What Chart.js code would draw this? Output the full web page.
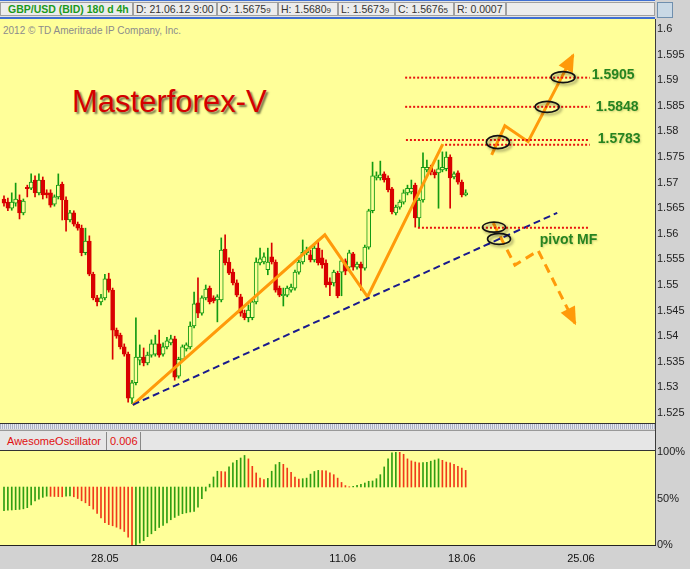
<!DOCTYPE html>
<html>
<head>
<meta charset="utf-8">
<script src="https://cdn.jsdelivr.net/npm/chart.js@4.4.1/dist/chart.umd.min.js"></script>
<style>
body { margin:0; background:#d4d4d4; }
#wrap { position:relative; width:690px; height:569px; overflow:hidden; background:#d2d2d2; font-family: Arial, 'Liberation Sans', sans-serif; }
.abs { position:absolute; }
#hdr { left:0; top:0; width:655px; height:16px; background:#e4e4e4; border-top:1px solid #3f6fd2; border-bottom:2px solid #3f6fd2; }
.cell { position:absolute; top:1px; height:14px; line-height:13px; font-size:10.5px; color:#333; background:#ececec; border:1px solid #a0a0a0; padding-left:2px; box-sizing:border-box; white-space:nowrap; overflow:hidden; }
.cell small { font-size:8px; }
#plot { left:0; top:19px; width:655px; height:404px; background:#ffff99; }
#vline { left:655px; top:19px; width:1px; height:527px; background:#3a3a3a; }
#sep1 { left:0; top:423px; width:655px; height:1px; background:#333; }
#sep2 { left:0; top:424px; width:655px; height:5px; background: repeating-linear-gradient(90deg, #aeb4c4 0 1px, #e6e8ee 1px 2px); }
#aohdr { left:0; top:430px; width:655px; height:20px; background:#e6e6e6; border-top:1px solid #999; box-sizing:border-box; }
.aocell { position:absolute; top:1px; height:18px; line-height:18px; font-size:11px; color:#e01010; border-right:1px solid #888; box-sizing:border-box; padding-left:7px; }
#aoplot { left:0; top:450px; width:655px; height:95px; background:#ffff99; border-top:1px solid #333; box-sizing:border-box; }
#aobot { left:0; top:545px; width:656px; height:1px; background:#222; }
#copy { left:3px; top:25px; font-size:10px; color:#8c8c8c; white-space:nowrap; }
#title { left:72px; top:86px; font-size:31px; line-height:31px; color:#d40000; white-space:nowrap; text-shadow: 2px 2px 2px rgba(0,0,0,0.55); }
#hand { left:657px; top:2px; width:14px; height:14px; border:1px solid #6f8fae; background:#c9d9e6; }
canvas { position:absolute; left:0; }
</style>
</head>
<body>
<div id="wrap">
  <div id="hdr" class="abs">
    <div class="cell" style="left:0;width:133px;color:#1c9a1c;font-weight:bold;padding-left:7px;">GBP/USD (BID) 180 d 4h</div>
    <div class="cell" style="left:133px;width:84px;">D: 21.06.12 9:00</div>
    <div class="cell" style="left:217px;width:61px;">O: 1.5675<small>9</small></div>
    <div class="cell" style="left:278px;width:60px;">H: 1.5680<small>9</small></div>
    <div class="cell" style="left:338px;width:57px;">L: 1.5673<small>9</small></div>
    <div class="cell" style="left:395px;width:59px;">C: 1.5676<small>5</small></div>
    <div class="cell" style="left:454px;width:52px;">R: 0.0007</div>
    <div class="cell" style="left:506px;width:149px;"></div>
  </div>
  <div id="hand" class="abs"></div>
  <div id="plot" class="abs"></div>
  <div id="sep1" class="abs"></div>
  <div id="sep2" class="abs"></div>
  <div id="aohdr" class="abs">
    <div class="aocell" style="left:0;width:107px;">AwesomeOscillator</div>
    <div class="aocell" style="left:107px;width:34px;padding-left:3px;" id="aoval"></div>
  </div>
  <div id="aoplot" class="abs"></div>
  <div id="vline" class="abs"></div>
  <div id="aobot" class="abs"></div>
  <div id="copy" class="abs">2012 © TD Ameritrade IP Company, Inc.</div>
  <div id="title" class="abs">Masterforex-V</div>
  <canvas id="mainChart" width="690" height="401" style="top:20px"></canvas>
  <canvas id="aoChart" width="690" height="129" style="top:440px"></canvas>
</div>
<script>
// GBP/USD 4h candles, one per bar index
const opens = [
  1.5668,1.5662,1.5650,1.5660,1.5666,1.5641,1.5691,1.5689,1.5705,1.5680,
  1.5705,1.5680,1.5680,1.5658,1.5672,1.5697,1.5666,1.5627,1.5641,1.5619,
  1.5611,1.5563,1.5586,1.5521,1.5475,1.5467,1.5475,1.5512,1.5490,1.5412,
  1.5402,1.5379,1.5365,1.5279,1.5309,1.5353,1.5359,1.5348,1.5363,1.5365,
  1.5385,1.5365,1.5379,1.5387,1.5395,1.5322,1.5355,1.5375,1.5379,1.5420,
  1.5465,1.5445,1.5475,1.5494,1.5475,1.5471,1.5471,1.5570,1.5545,1.5525,
  1.5504,1.5477,1.5445,1.5436,1.5436,1.5467,1.5543,1.5545,1.5530,1.5555,
  1.5545,1.5494,1.5479,1.5480,1.5490,1.5494,1.5525,1.5545,1.5563,1.5559,
  1.5549,1.5572,1.5553,1.5543,1.5506,1.5504,1.5523,1.5525,1.5547,1.5535,
  1.5561,1.5535,1.5541,1.5533,1.5574,1.5645,1.5709,1.5709,1.5717,1.5709,
  1.5688,1.5641,1.5652,1.5662,1.5680,1.5682,1.5695,1.5631,1.5666,1.5725,
  1.5730,1.5721,1.5719,1.5725,1.5727,1.5750,1.5711,1.5719,1.5701,1.5676
];
const highs = [
  1.5674,1.5670,1.5680,1.5699,1.5676,1.5668,1.5695,1.5717,1.5713,1.5717,
  1.5711,1.5686,1.5686,1.5676,1.5717,1.5701,1.5672,1.5646,1.5645,1.5623,
  1.5617,1.5611,1.5596,1.5525,1.5480,1.5482,1.5521,1.5523,1.5494,1.5416,
  1.5406,1.5385,1.5369,1.5314,1.5436,1.5383,1.5377,1.5369,1.5393,1.5402,
  1.5412,1.5387,1.5398,1.5402,1.5400,1.5359,1.5383,1.5387,1.5428,1.5486,
  1.5514,1.5479,1.5500,1.5498,1.5479,1.5481,1.5592,1.5598,1.5553,1.5531,
  1.5510,1.5482,1.5451,1.5461,1.5471,1.5553,1.5572,1.5563,1.5572,1.5582,
  1.5549,1.5498,1.5494,1.5498,1.5502,1.5529,1.5549,1.5588,1.5574,1.5568,
  1.5578,1.5588,1.5568,1.5549,1.5514,1.5529,1.5527,1.5549,1.5551,1.5568,
  1.5564,1.5545,1.5545,1.5578,1.5648,1.5740,1.5721,1.5742,1.5721,1.5713,
  1.5691,1.5656,1.5666,1.5686,1.5695,1.5705,1.5699,1.5670,1.5758,1.5744,
  1.5734,1.5725,1.5744,1.5760,1.5760,1.5754,1.5721,1.5723,1.5705,1.5686
];
const lows = [
  1.5654,1.5645,1.5646,1.5654,1.5629,1.5637,1.5672,1.5686,1.5672,1.5676,
  1.5668,1.5670,1.5652,1.5654,1.5668,1.5627,1.5605,1.5623,1.5615,1.5607,
  1.5557,1.5559,1.5518,1.5471,1.5459,1.5461,1.5471,1.5486,1.5355,1.5396,
  1.5375,1.5361,1.5271,1.5268,1.5305,1.5344,1.5342,1.5344,1.5359,1.5361,
  1.5359,1.5361,1.5375,1.5383,1.5314,1.5318,1.5352,1.5371,1.5375,1.5416,
  1.5436,1.5441,1.5471,1.5463,1.5465,1.5428,1.5467,1.5539,1.5520,1.5500,
  1.5477,1.5439,1.5432,1.5428,1.5432,1.5463,1.5539,1.5541,1.5520,1.5541,
  1.5486,1.5477,1.5459,1.5477,1.5486,1.5490,1.5521,1.5541,1.5559,1.5545,
  1.5545,1.5539,1.5533,1.5496,1.5479,1.5498,1.5475,1.5479,1.5520,1.5529,
  1.5529,1.5531,1.5490,1.5529,1.5570,1.5641,1.5705,1.5705,1.5701,1.5682,
  1.5639,1.5637,1.5648,1.5658,1.5676,1.5678,1.5613,1.5613,1.5662,1.5721,
  1.5715,1.5709,1.5650,1.5721,1.5723,1.5650,1.5707,1.5697,1.5672,1.5674
];
const closes = [
  1.5660,1.5650,1.5662,1.5668,1.5641,1.5664,1.5688,1.5701,1.5680,1.5705,
  1.5676,1.5676,1.5656,1.5672,1.5695,1.5666,1.5627,1.5641,1.5619,1.5611,
  1.5563,1.5586,1.5521,1.5475,1.5467,1.5475,1.5512,1.5490,1.5412,1.5400,
  1.5379,1.5365,1.5279,1.5309,1.5359,1.5359,1.5348,1.5363,1.5385,1.5385,
  1.5363,1.5379,1.5391,1.5395,1.5320,1.5355,1.5379,1.5383,1.5420,1.5463,
  1.5445,1.5475,1.5492,1.5467,1.5469,1.5477,1.5568,1.5543,1.5523,1.5504,
  1.5480,1.5445,1.5436,1.5451,1.5467,1.5545,1.5551,1.5555,1.5545,1.5545,
  1.5490,1.5480,1.5482,1.5494,1.5496,1.5525,1.5545,1.5564,1.5568,1.5549,
  1.5572,1.5543,1.5539,1.5500,1.5500,1.5525,1.5479,1.5547,1.5527,1.5563,
  1.5535,1.5541,1.5533,1.5574,1.5645,1.5713,1.5713,1.5715,1.5705,1.5686,
  1.5643,1.5652,1.5662,1.5680,1.5689,1.5689,1.5631,1.5666,1.5730,1.5730,
  1.5721,1.5715,1.5727,1.5730,1.5750,1.5709,1.5717,1.5701,1.5676,1.5680
];

// Awesome Oscillator, same bars
const aoValues = [
  -0.0082,-0.0081,-0.0080,-0.0079,-0.0078,-0.0076,-0.0072,-0.0062,-0.0048,-0.0042,
  -0.0036,-0.0032,-0.00325,-0.0033,-0.00335,-0.0034,-0.0032,-0.0031,-0.0034,-0.0040,
  -0.0048,-0.0055,-0.0065,-0.0077,-0.0092,-0.0108,-0.0124,-0.0131,-0.0135,-0.0140,
  -0.0146,-0.0155,-0.0175,-0.0202,-0.0201,-0.0195,-0.0187,-0.0173,-0.0163,-0.0152,
  -0.0141,-0.0134,-0.0125,-0.0114,-0.0106,-0.0099,-0.0093,-0.0090,-0.0087,-0.0085,
  -0.0070,-0.0041,-0.0014,0.0010,0.0035,0.0055,0.0054,0.0053,0.0070,0.0084,
  0.0093,0.0101,0.0110,0.0098,0.0072,0.0049,0.0031,0.0026,0.0030,0.0055,
  0.0078,0.0086,0.0079,0.0066,0.0051,0.0035,0.0028,0.0029,0.0031,0.0045,
  0.0054,0.0058,0.0057,0.0056,0.0049,0.0043,0.0031,0.0016,0.0005,0.0001,
  0.0002,0.0006,0.0009,0.0014,0.0020,0.0021,0.0029,0.0043,0.0070,0.0098,
  0.0119,0.0122,0.0121,0.0114,0.0098,0.0091,0.0087,0.0084,0.0085,0.0086,
  0.0090,0.0094,0.0098,0.0093,0.0087,0.0084,0.0079,0.0072,0.0066,0.0058
];

const priceTicks = [1.525,1.53,1.535,1.54,1.545,1.55,1.555,1.56,1.565,1.57,1.575,1.58,1.585,1.59,1.595,1.6];
const weekTicks = [26, 56.7, 87.3, 118, 148.7];
const weekLabels = ['28.05', '04.06', '11.06', '18.06', '25.06'];
const aoTickLabels = ['0%', '50%', '100%'];

// drawn analysis (bar index, price)
const zigzag = [{x:33.2,y:1.5266},{x:82.7,y:1.5598},{x:93.7,y:1.5477},{x:113.1,y:1.5775}];
const upPath = [{x:125.7,y:1.5754},{x:129.1,y:1.5811},{x:135.1,y:1.5780},{x:146.7,y:1.5949}];
const downPath = [{x:126.1,y:1.5621},{x:131.7,y:1.5539},{x:137.7,y:1.5567},{x:147.2,y:1.5425}];
const trendLine = [{x:33.2,y:1.5266},{x:142.6,y:1.5641}];
const levels = [1.5905, 1.5848, 1.5783];
const levelLines = [
  {p:1.5905, from:103.4}, {p:1.5848, from:103.4}, {p:1.5783, from:103.6},
  {p:1.5774, from:113.7}, {p:1.5612, from:106.7}
];
const levelEnd = 151;
const pivotLabel = {x:138.1, y:1.5588, text:'pivot MF'};
const circles = [{x:144.1,y:1.5906},{x:140.0,y:1.5848},{x:127.3,y:1.5779},{x:126.3,y:1.5613},{x:127.6,y:1.5590}];

const X_MIN = -1.03, X_MAX = 167.8;
const GREEN = '#129a12', RED = '#d90000', YELLOW = '#ffff99', ORANGE = '#ff9a0a';

const idx = opens.map((_, i) => i);
const isUp = i => closes[i] >= opens[i];

const overlay = {
  id: 'overlay',
  afterDatasetsDraw(chart) {
    const {ctx, scales: {x, y}} = chart;
    // arrow heads at the end of the projections
    [upPath, downPath].forEach(path => {
      const a = path[path.length - 2], b = path[path.length - 1];
      const ax = x.getPixelForValue(a.x), ay = y.getPixelForValue(a.y);
      const bx = x.getPixelForValue(b.x), by = y.getPixelForValue(b.y);
      ctx.save();
      ctx.translate(bx, by);
      ctx.rotate(Math.atan2(by - ay, bx - ax));
      ctx.beginPath();
      ctx.moveTo(2, 0); ctx.lineTo(-16, -8); ctx.lineTo(-16, 8); ctx.closePath();
      ctx.fillStyle = ORANGE;
      ctx.fill();
      ctx.restore();
    });
    // ellipses
    const radii = [[12,5.5],[12,5.5],[11.5,6.5],[11.5,5],[11.5,5.5]];
    circles.forEach((c, i) => {
      ctx.save();
      ctx.shadowColor = 'rgba(0,0,0,0.45)';
      ctx.shadowBlur = 3; ctx.shadowOffsetX = 2; ctx.shadowOffsetY = 2;
      ctx.beginPath();
      ctx.ellipse(x.getPixelForValue(c.x), y.getPixelForValue(c.y), radii[i][0], radii[i][1], 0, 0, Math.PI * 2);
      ctx.strokeStyle = '#111';
      ctx.lineWidth = 1.6;
      ctx.stroke();
      ctx.restore();
    });
    // level labels
    ctx.save();
    ctx.font = 'bold 14px Arial, "Liberation Sans", sans-serif';
    ctx.fillStyle = '#268420';
    ctx.textBaseline = 'middle';
    ctx.shadowColor = 'rgba(120,120,60,0.35)';
    ctx.shadowBlur = 2; ctx.shadowOffsetX = 1; ctx.shadowOffsetY = 1;
    const dx = [2, 6, 8], dy = [-3, 0, -1];
    levels.forEach((p, i) => {
      ctx.fillText(p.toFixed(4), x.getPixelForValue(levelEnd) + dx[i], y.getPixelForValue(p) + dy[i]);
    });
    ctx.fillText(pivotLabel.text, x.getPixelForValue(pivotLabel.x), y.getPixelForValue(pivotLabel.y));
    ctx.restore();
  }
};

const lineDs = (data, color, width, dash) => ({
  type: 'line', data, borderColor: color, borderWidth: width, borderDash: dash || [],
  pointRadius: 0, fill: false, tension: 0, order: 0, borderCapStyle: 'butt'
});

const datasets = [
  {
    type: 'bar', order: 1, grouped: false, barThickness: 4,
    data: idx.map(i => ({x: i, y: [opens[i], closes[i]]})),
    backgroundColor: idx.map(i => isUp(i) ? YELLOW : RED),
    borderColor: idx.map(i => isUp(i) ? GREEN : RED),
    borderWidth: 1, borderSkipped: false
  },
  {
    type: 'bar', order: 2, grouped: false, barThickness: 1,
    data: idx.map(i => ({x: i, y: [lows[i], highs[i]]})),
    backgroundColor: idx.map(i => isUp(i) ? GREEN : RED),
    borderWidth: 0
  }
];
levelLines.forEach(l => datasets.push(lineDs([{x: l.from, y: l.p}, {x: levelEnd, y: l.p}], '#e8140f', 2, [2, 2])));
datasets.push(lineDs(trendLine, '#1a1a8c', 2, [7, 4]));
datasets.push(lineDs(zigzag, ORANGE, 3));
datasets.push(lineDs(upPath, ORANGE, 3));
datasets.push(lineDs(downPath, ORANGE, 3, [9, 6]));

const tickFont = {family: 'Arial, "Liberation Sans", sans-serif', size: 11};

new Chart(document.getElementById('mainChart'), {
  type: 'bar',
  data: {datasets},
  options: {
    responsive: false, animation: false, devicePixelRatio: 1,
    layout: {padding: 0},
    plugins: {legend: {display: false}, tooltip: {enabled: false}},
    scales: {
      x: {type: 'linear', min: X_MIN, max: X_MAX, offset: false, display: false},
      y: {
        type: 'linear', position: 'right', min: 1.523438, max: 1.601758, beginAtZero: false,
        grid: {display: false, drawTicks: false}, border: {display: false},
        afterBuildTicks: s => { s.ticks = priceTicks.map(v => ({value: v})); },
        afterFit: s => { s.width = 35; s.paddingTop = 0; s.paddingBottom = 0; },
        ticks: {padding: 2, color: '#222', font: tickFont, callback: v => String(Number(v.toFixed(3)))}
      }
    }
  },
  plugins: [overlay]
});

const AO_MIN = -0.0202, AO_MAX = 0.0122;
document.getElementById('aoval').textContent = aoValues[aoValues.length - 1].toFixed(3);

new Chart(document.getElementById('aoChart'), {
  type: 'bar',
  data: {
    datasets: [{
      data: aoValues.map((v, i) => ({x: i, y: v})),
      barThickness: 1,
      backgroundColor: aoValues.map((v, i) => (i === 0 || v >= aoValues[i - 1]) ? '#2f9e12' : '#f03a1a')
    }]
  },
  options: {
    responsive: false, animation: false, devicePixelRatio: 1,
    layout: {padding: {top: 12, left: 0, right: 0, bottom: 0}},
    plugins: {legend: {display: false}, tooltip: {enabled: false}},
    scales: {
      x: {
        type: 'linear', min: X_MIN, max: X_MAX, offset: false,
        grid: {display: false, drawTicks: false}, border: {display: false},
        afterBuildTicks: s => { s.ticks = weekTicks.map(v => ({value: v})); },
        afterFit: s => { s.height = 24; s.paddingLeft = 0; s.paddingRight = 0; },
        ticks: {autoSkip: false, maxRotation: 0, padding: 7, color: '#111', font: tickFont,
          callback: (v, i) => weekLabels[i]}
      },
      y: {
        type: 'linear', position: 'right', min: AO_MIN, max: AO_MAX, beginAtZero: false,
        grid: {display: false, drawTicks: false}, border: {display: false},
        afterBuildTicks: s => { s.ticks = [AO_MIN, (AO_MIN + AO_MAX) / 2, AO_MAX].map(v => ({value: v})); },
        afterFit: s => { s.width = 35; s.paddingTop = 0; s.paddingBottom = 0; },
        ticks: {padding: 2, color: '#222', font: tickFont, callback: (v, i) => aoTickLabels[i]}
      }
    }
  }
});
</script>
</body>
</html>
